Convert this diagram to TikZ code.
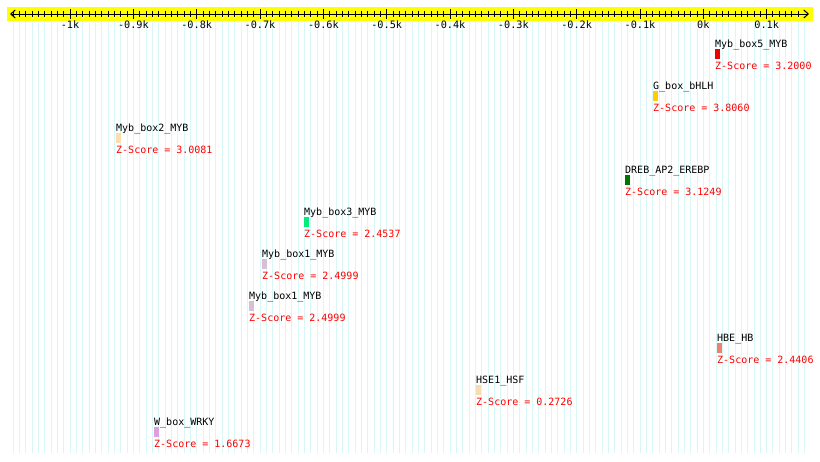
\documentclass[tikz,border=0pt]{standalone}
\usepackage{fontspec}
\setmonofont{DejaVu Sans Mono}
\usetikzlibrary{arrows.meta}
\definecolor{axisyellow}{HTML}{FFFF00}
\definecolor{stripecol}{HTML}{D8F8F8}
\definecolor{zred}{HTML}{FF0000}
\definecolor{cMybfive}{HTML}{EE0000}
\definecolor{cGbox}{HTML}{FFCC00}
\definecolor{cMybtwo}{HTML}{FBDDB0}
\definecolor{cDreb}{HTML}{007700}
\definecolor{cMybthree}{HTML}{00EE77}
\definecolor{cMybone}{HTML}{D8BFD8}
\definecolor{cHbe}{HTML}{F08070}
\definecolor{cHse}{HTML}{F5DEB3}
\definecolor{cWbox}{HTML}{DDA0DD}
\tikzset{
  stripe/.style={draw=stripecol,line width=1pt},
  tickmark/.style={draw=black,line width=1pt},
  ticklabel/.style={font=\ttfamily\fontsize{10.2}{10}\selectfont,anchor=base,inner sep=0pt},
  fname/.style={font=\ttfamily\fontsize{10}{10}\selectfont,anchor=base west,inner sep=0pt,text=black},
  zscore/.style={font=\ttfamily\fontsize{10}{10}\selectfont,anchor=base west,inner sep=0pt,text=zred},
}
\newcommand{\feature}[6]{%
  \node[fname] (n#1) at (#2,#3) {#4};
  \fill[#5] (#2,#3+2) rectangle ++(5,10);
  \node[zscore] (z#1) at (#2,#3+22) {Z-Score = #6};
}
\begin{document}
\begin{tikzpicture}[x=1pt,y=-1pt]
\useasboundingbox (0,0) rectangle (820,461);
\fill[white] (0,0) rectangle (820,461);
% stripes
\foreach \i in {-109,...,16} {
  \draw[stripe] ({703.33+\i*6.333},21) -- ({703.33+\i*6.333},453);
}
% axis band
\fill[axisyellow] (7,7) rectangle (813,21);
\coordinate (axL) at (10,14);
\coordinate (axR) at (809,14);
\draw[line width=1pt,{Straight Barb[length=4.5pt,width=8pt]}-{Straight Barb[length=4.5pt,width=8pt]}] (axL) -- (axR);
\foreach \i in {-109,...,15} {
  \draw[tickmark] ({703.33+\i*6.333},11) -- ({703.33+\i*6.333},17);
}
\foreach \i/\lab in {-100/-1k,-90/-0.9k,-80/-0.8k,-70/-0.7k,-60/-0.6k,-50/-0.5k,-40/-0.4k,-30/-0.3k,-20/-0.2k,-10/-0.1k,0/0k,10/0.1k} {
  \draw[tickmark] ({703.33+\i*6.333},9) -- ({703.33+\i*6.333},19);
  \node[ticklabel] (t\i) at ({703.33+\i*6.333},28) {\lab};
}
% features
\feature{a}{715}{47}{Myb\_box5\_MYB}{cMybfive}{3.2000}
\feature{b}{653}{89}{G\_box\_bHLH}{cGbox}{3.8060}
\feature{c}{116}{131}{Myb\_box2\_MYB}{cMybtwo}{3.0081}
\feature{d}{625}{173}{DREB\_AP2\_EREBP}{cDreb}{3.1249}
\feature{e}{304}{215}{Myb\_box3\_MYB}{cMybthree}{2.4537}
\feature{f}{262}{257}{Myb\_box1\_MYB}{cMybone}{2.4999}
\feature{g}{249}{299}{Myb\_box1\_MYB}{cMybone}{2.4999}
\feature{h}{717}{341}{HBE\_HB}{cHbe}{2.4406}
\feature{i}{476}{383}{HSE1\_HSF}{cHse}{0.2726}
\feature{j}{154}{425}{W\_box\_WRKY}{cWbox}{1.6673}
\end{tikzpicture}
\end{document}
